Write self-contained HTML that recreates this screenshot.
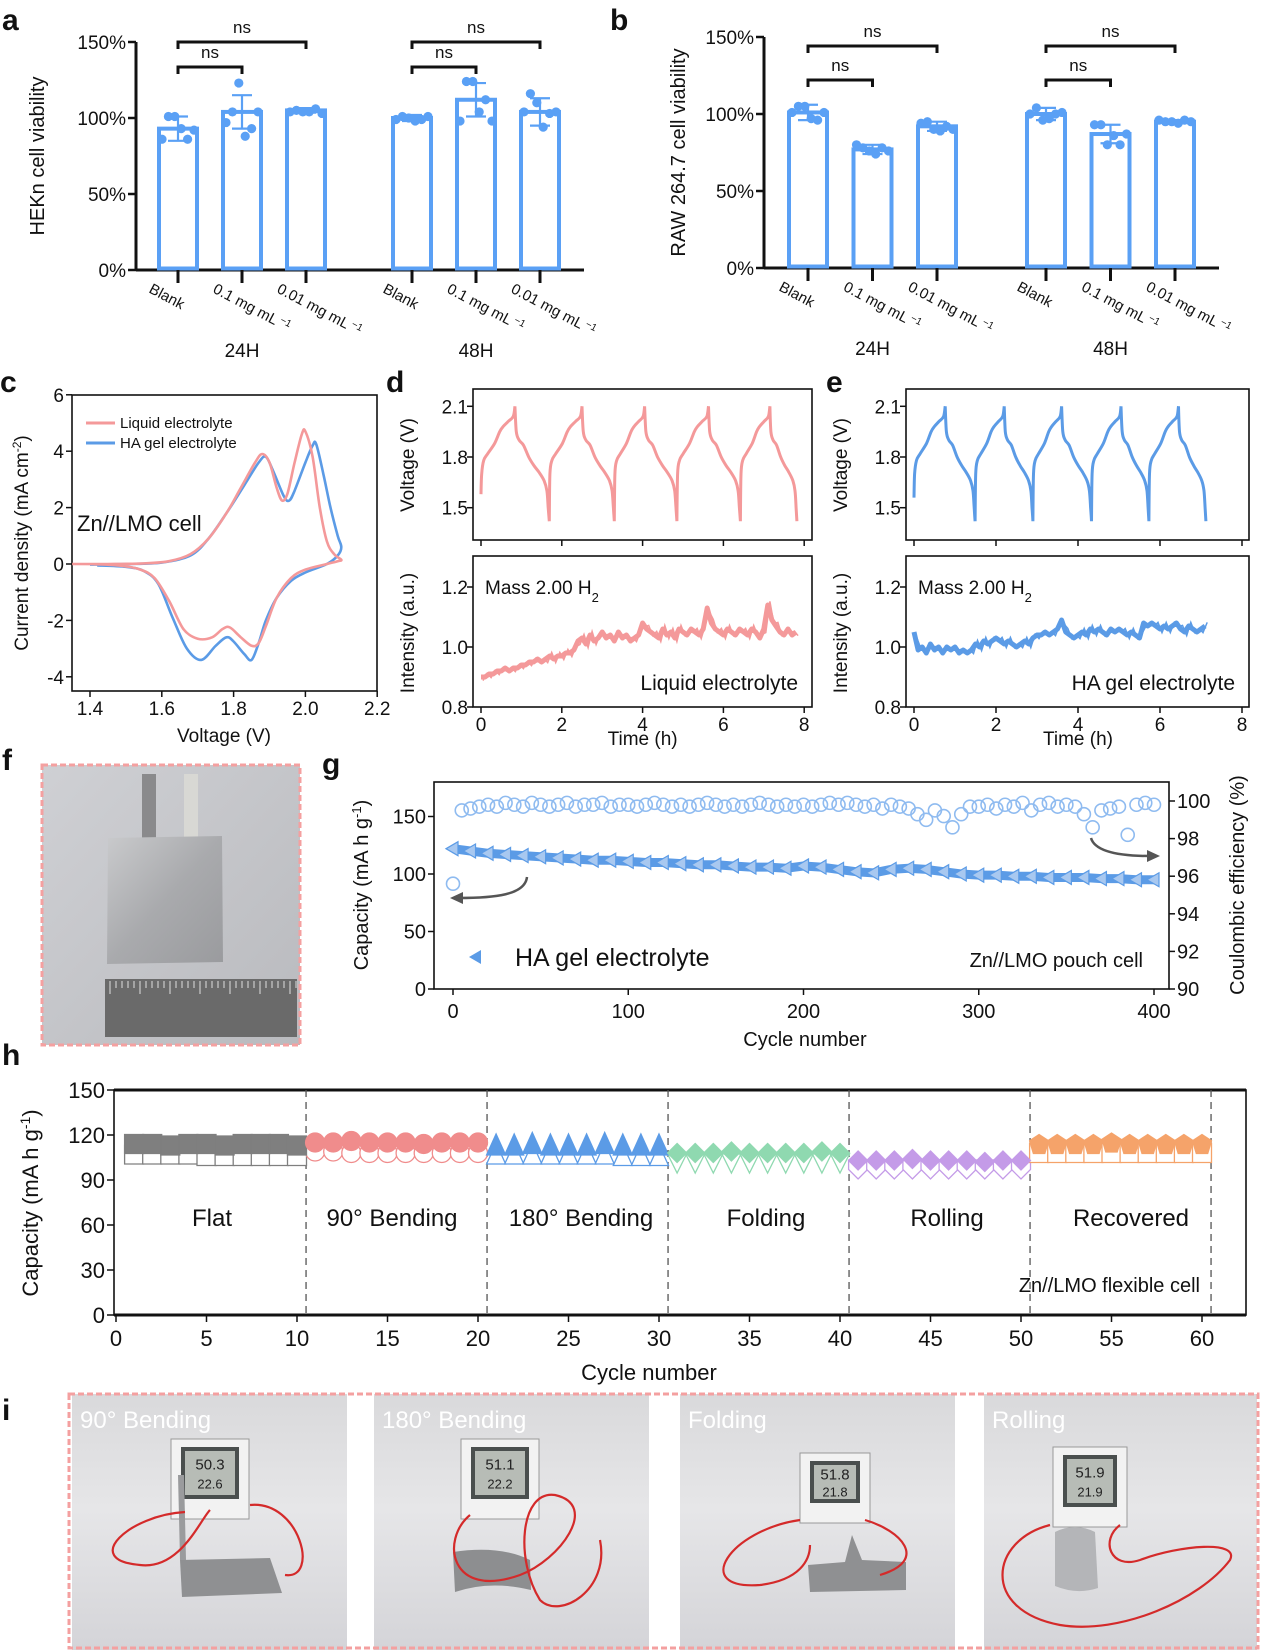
<!DOCTYPE html>
<html><head><meta charset="utf-8">
<style>
html,body{margin:0;padding:0;background:#fff;}
svg{display:block;font-family:"Liberation Sans",Arial,sans-serif;}
</style></head>
<body>
<svg id="fig" xmlns="http://www.w3.org/2000/svg" width="1269" height="1650" viewBox="0 0 1269 1650">
<defs>
<linearGradient id="phbg" x1="0" y1="0" x2="0" y2="1"><stop offset="0" stop-color="#d9d9db"/><stop offset="0.45" stop-color="#e6e6e8"/><stop offset="1" stop-color="#d4d4d8"/></linearGradient>
<linearGradient id="fbg" x1="0" y1="0" x2="1" y2="1"><stop offset="0" stop-color="#cfd0d4"/><stop offset="1" stop-color="#b9babe"/></linearGradient>
<linearGradient id="foil" x1="0" y1="0" x2="1" y2="1"><stop offset="0" stop-color="#c9cacc"/><stop offset="0.5" stop-color="#a9aaad"/><stop offset="1" stop-color="#9a9b9e"/></linearGradient>
</defs>
</svg>
<script>
const NS='http://www.w3.org/2000/svg';
const svg=document.getElementById('fig');

/* ---------- data ---------- */
// panel a
const aCategories=['Blank','0.1 mg mL','0.01 mg mL'];
const aGroups=['24H','48H'];
const aMeans=[[93,104,105],[100,112,104]];
const aSD=[[8,11,1.5],[2,11,9]];
const aPoints=[[[86,101,101,93,86,92],[97,104,123,88,93,104],[104,105,104,104,106,103]],
               [[99,101,100,98,99,101],[98,124,124,104,112,98],[104,116,110,94,103,104]]];
// panel b
const bMeans=[[101,77,92],[100,87,95]];
const bSD=[[5,3,3],[4,6,1]];
const bPoints=[[[101,105,105,97,96,101],[80,78,76,74,78,76],[94,95,90,89,92,90]],
               [[100,104,96,97,100,101],[93,93,80,86,80,87],[96,95,95,94,96,95]]];
const pctTicks=[0,50,100,150];
// panel c
const cvLiqV=[1.35,1.45,1.55,1.62,1.68,1.73,1.78,1.82,1.86,1.88,1.9,1.92,1.935,1.95,1.97,1.99,2.0,2.02,2.04,2.06,2.08,2.1,2.09,2.06,2.0,1.96,1.92,1.89,1.87,1.85,1.82,1.79,1.77,1.74,1.7,1.66,1.62,1.58,1.54,1.48,1.4];
const cvLiqI=[0,0,0.02,0.1,0.35,0.9,1.8,2.7,3.6,3.9,3.6,2.7,2.25,2.5,3.6,4.6,4.7,3.8,2.0,0.8,0.35,0.15,0.1,0.0,-0.2,-0.5,-1.2,-2.2,-2.8,-2.9,-2.6,-2.25,-2.3,-2.6,-2.65,-2.3,-1.3,-0.5,-0.2,-0.05,0];
const cvGelV=[1.4,1.5,1.6,1.68,1.73,1.78,1.83,1.87,1.89,1.91,1.94,1.955,1.97,2.0,2.02,2.03,2.05,2.07,2.09,2.1,2.09,2.06,2.0,1.96,1.92,1.89,1.87,1.85,1.83,1.8,1.78,1.75,1.71,1.67,1.63,1.59,1.55,1.5,1.42];
const cvGelI=[-0.02,0,0.05,0.3,0.9,1.8,2.8,3.6,3.8,3.3,2.4,2.25,2.6,3.6,4.2,4.25,3.2,2.0,1.0,0.6,0.3,0.0,-0.3,-0.6,-1.2,-2.0,-2.8,-3.4,-3.2,-2.75,-2.6,-2.9,-3.4,-3.0,-1.9,-0.7,-0.25,-0.1,-0.05];
const cXTicks=[1.4,1.6,1.8,2.0,2.2];
const cYTicks=[-4,-2,0,2,4,6];
// panels d/e voltage profiles
const chgFrac=[0,0.02,0.08,0.2,0.4,0.55,0.65,0.8,0.95,1];
const chgV=[1.57,1.7,1.78,1.82,1.88,1.95,1.98,2.01,2.04,2.1];
const dchFrac=[0,0.04,0.12,0.25,0.4,0.55,0.7,0.85,0.93,0.97,1];
const dchV=[2.1,1.95,1.9,1.87,1.8,1.75,1.71,1.66,1.6,1.5,1.42];
const liqStarts=[0,1.69,3.3,4.85,6.42];
const liqChgEnd=[0.84,2.5,4.05,5.63,7.15];
const liqDchEnd=[1.69,3.3,4.85,6.42,7.82];
const liqStartV=[1.58,1.42,1.42,1.42,1.42];
const gelStarts=[0,1.49,2.9,4.33,5.73];
const gelChgEnd=[0.76,2.2,3.6,5.05,6.45];
const gelDchEnd=[1.49,2.9,4.33,5.73,7.12];
const gelStartV=[1.56,1.42,1.42,1.42,1.42];
const timeTicks=[0,2,4,6,8];
const vTicks=[1.5,1.8,2.1];
const intTicks=[0.8,1.0,1.2];
// H2 intensity, 0.1 h step
const liqInt=[0.90,0.90,0.91,0.91,0.92,0.92,0.93,0.92,0.93,0.93,0.94,
0.94,0.95,0.95,0.96,0.95,0.96,0.97,0.96,0.97,0.97,
0.98,0.98,0.99,1.02,1.03,1.01,1.04,1.02,1.03,1.05,
1.03,1.04,1.02,1.05,1.03,1.04,1.02,1.03,1.04,1.08,
1.06,1.05,1.04,1.03,1.06,1.04,1.05,1.03,1.06,1.05,
1.04,1.06,1.05,1.04,1.06,1.13,
1.08,1.06,1.05,1.04,1.06,1.05,1.04,1.06,1.05,
1.04,1.06,1.05,1.03,1.06,1.14,
1.09,1.07,1.05,1.04,1.06,1.04,1.05];
const gelInt=[1.05,0.99,1.00,0.98,1.01,0.99,1.00,0.98,1.00,0.99,1.00,
0.98,0.99,0.98,0.99,1.01,1.00,1.02,1.01,1.02,1.03,
1.02,1.01,1.02,1.01,1.00,1.01,1.02,1.01,1.03,1.04,
1.04,1.05,1.04,1.05,1.06,1.09,1.05,1.04,1.03,1.04,
1.05,1.04,1.06,1.05,1.06,1.05,1.04,1.06,1.05,1.06,
1.05,1.04,1.05,1.04,1.03,1.08,1.07,1.08,1.07,1.06,
1.07,1.06,1.07,1.08,1.06,1.05,1.07,1.06,1.05,1.06,1.07];
// panel g (capacity every 10 cycles, CE every 5 cycles)
const gCapacity=[122,120,118,117,116,115,114,113,112,112,111,110,110,109,108,108,107,106,106,105,107,106,104,102,101,104,105,104,102,100,99,99,98,98,97,97,97,96,96,95,95];
const gCE=[95.6,99.5,99.6,99.7,99.8,99.7,99.9,99.8,99.7,99.9,99.8,99.7,99.8,99.9,99.7,99.8,99.8,99.9,99.7,99.8,
99.8,99.7,99.8,99.9,99.8,99.7,99.8,99.7,99.8,99.9,99.8,99.7,99.8,99.7,99.8,99.9,99.8,99.7,99.8,99.7,
99.8,99.7,99.8,99.9,99.8,99.9,99.8,99.7,99.8,99.6,99.8,99.7,99.6,99.3,99.0,99.5,99.2,98.6,99.3,99.7,
99.7,99.8,99.6,99.8,99.7,99.9,99.5,99.8,99.9,99.7,99.8,99.7,99.3,98.6,99.5,99.6,99.7,98.2,99.8,99.9,99.8];
const gXTicks=[0,100,200,300,400];
const gYTicks=[0,50,100,150];
const gRTicks=[90,92,94,96,98,100];
// panel h
const hSegments=['Flat','90° Bending','180° Bending','Folding','Rolling','Recovered'];
const hCharge=[114,114,113,114,114,113,114,114,114,113, 115,115,116,115,115,115,114,115,115,115,
113,113,114,113,113,113,114,113,113,113, 108,108,108,109,108,108,108,108,109,108,
103,103,103,104,103,103,103,102,103,103, 114,114,114,114,115,114,114,114,114,114];
const hDischarge=[107,107,107,107,106,106,106,106,106,106, 109,109,108,108,108,108,108,108,108,108,
107,107,107,107,107,107,107,106,106,106, 101,101,101,101,101,101,101,101,101,101,
97,97,97,97,97,97,97,97,97,97, 108,108,108,108,108,108,108,108,108,108];
const hXTicks=[0,5,10,15,20,25,30,35,40,45,50,55,60];
const hYTicks=[0,30,60,90,120,150];

/* ---------- helpers ---------- */
function mk(tag, attrs, name, parent){
  const el=document.createElementNS(NS,tag);
  for(const k in attrs) el.setAttribute(k,attrs[k]);
  
  
  (parent||svg).appendChild(el);
  return el;
}
function txt(x,y,s,size,name,opt){
  opt=opt||{};
  const a={x:x,y:y,'font-size':size,fill:opt.fill||'#111'};
  if(opt.anchor) a['text-anchor']=opt.anchor;
  if(opt.weight) a['font-weight']=opt.weight;
  if(opt.transform) a.transform=opt.transform;
  const t=mk('text',a,name,opt.parent);
  t.textContent=s;
  return t;
}
function sup(t,s,size){
  const ts=document.createElementNS(NS,'tspan');
  ts.setAttribute('baseline-shift','super');
  ts.setAttribute('font-size',size);
  ts.textContent=s;
  t.appendChild(ts);
  return ts;
}
function line(x1,y1,x2,y2,name,w,c,extra){
  const a={x1:x1,y1:y1,x2:x2,y2:y2,stroke:c||'#111','stroke-width':w||1.5};
  if(extra) for(const k in extra) a[k]=extra[k];
  return mk('line',a,name);
}
function smooth(p){
  let d='M'+p[0][0].toFixed(1)+','+p[0][1].toFixed(1);
  for(let i=0;i<p.length-1;i++){
    const p0=p[i-1]||p[i],p1=p[i],p2=p[i+1],p3=p[i+2]||p2;
    const c1=[p1[0]+(p2[0]-p0[0])/6,p1[1]+(p2[1]-p0[1])/6];
    const c2=[p2[0]-(p3[0]-p1[0])/6,p2[1]-(p3[1]-p1[1])/6];
    d+='C'+c1[0].toFixed(1)+','+c1[1].toFixed(1)+' '+c2[0].toFixed(1)+','+c2[1].toFixed(1)+' '+p2[0].toFixed(1)+','+p2[1].toFixed(1);
  }
  return d;
}
function poly(p){return 'M'+p.map(q=>q[0].toFixed(1)+','+q[1].toFixed(1)).join('L');}

/* ---------- panel letters ---------- */
[['a',2,30],['b',610,30],['c',0,392],['d',386,392],['e',826,392],['f',2,770],['g',322,774],['h',2,1065],['i',2,1420]].forEach(l=>{
  txt(l[1],l[2],l[0],30,'panel-label-'+l[0],{weight:'bold'});
});

/* ---------- bar panels a & b ---------- */
function barPanel(key,axX,axRight,y0,y150,cx0,step,gstep,means,sds,pts,ylab,ylabX){
  const y=v=>y0-v*(y0-y150)/150;
  const xc=(g,i)=>cx0+g*gstep+i*step;
  const blue='#5aa0f5';
  line(axX,y150,axX,y0+1,key+'-y-axis',3);
  line(axX,y0,axRight,y0,key+'-x-axis',3);
  pctTicks.forEach(v=>{
    line(axX-8,y(v),axX,y(v),key+'-y-tick',2.5);
    txt(axX-10,y(v)+7,v+'%',19,key+'-y-tick-label',{anchor:'end'});
  });
  const yl=txt(ylabX,(y0+y150)/2,ylab,20,key+'-y-axis-title',{anchor:'middle',transform:'rotate(-90 '+ylabX+' '+((y0+y150)/2)+')'});
  for(let g=0;g<2;g++){
    for(let i=0;i<3;i++){
      const x=xc(g,i),m=means[g][i],s=sds[g][i];
      mk('rect',{x:x-19,y:y(m),width:38,height:y0-y(m)-1.5,fill:'#fff',stroke:blue,'stroke-width':4},key+'-bar-'+aGroups[g]+'-'+i);
      line(x,y(m-s),x,y(m+s),key+'-error-bar',2.2,blue);
      line(x-10,y(m+s),x+10,y(m+s),key+'-error-cap',2.2,blue);
      line(x-10,y(m-s),x+10,y(m-s),key+'-error-cap',2.2,blue);
      pts[g][i].forEach((v,k)=>{
        mk('circle',{cx:x-16+k*6.4,cy:y(v),r:4.6,fill:blue},key+'-data-point');
      });
      line(x,y0,x,y0+13,key+'-x-tick',3);
      const tl=txt(x-30,y0+22,aCategories[i],15,key+'-x-tick-label',{transform:'rotate(28 '+(x-30)+' '+(y0+22)+')'});
      if(i>0) sup(tl,' −1',10);
    }
    txt(xc(g,1),y0+87,aGroups[g],19,key+'-group-label',{anchor:'middle'});
  }
  return {y,xc};
}
const pa=barPanel('a',136,584,270,42,178,64,234,aMeans,aSD,aPoints,'HEKn cell viability',44);
const pb=barPanel('b',764,1219,268,37,808,64.5,238,bMeans,bSD,bPoints,'RAW 264.7 cell viability',685);
function brackets(key,p,yTop,yLow){
  for(let g=0;g<2;g++){
    const x0=p.xc(g,0),x1=p.xc(g,1),x2=p.xc(g,2);
    mk('path',{d:`M${x0},${yTop+7}V${yTop}H${x2}V${yTop+7}`,fill:'none',stroke:'#111','stroke-width':3},key+'-significance-bracket');
    txt((x0+x2)/2,yTop-9,'ns',17,key+'-significance-label',{anchor:'middle'});
    mk('path',{d:`M${x0},${yLow+7}V${yLow}H${x1}V${yLow+7}`,fill:'none',stroke:'#111','stroke-width':3},key+'-significance-bracket');
    txt((x0+x1)/2,yLow-9,'ns',17,key+'-significance-label',{anchor:'middle'});
  }
}
brackets('a',pa,42,67);
brackets('b',pb,46,80);

/* ---------- panel c ---------- */
(function(){
  const L=72,R=377,T=395,B=691;
  const x=v=>90+(v-1.4)*359;
  const y=v=>564-v*28.2;
  mk('rect',{x:L,y:T,width:R-L,height:B-T,fill:'none',stroke:'#111','stroke-width':1.6},'c-plot-frame');
  cXTicks.forEach(v=>{line(x(v),B,x(v),B+6,'c-x-tick',1.5);txt(x(v),B+24,v.toFixed(1),19,'c-x-tick-label',{anchor:'middle'});});
  cYTicks.forEach(v=>{line(L-6,y(v),L,y(v),'c-y-tick',1.5);txt(L-8,y(v)+7,String(v),19,'c-y-tick-label',{anchor:'end'});});
  txt(224,742,'Voltage (V)',19,'c-x-axis-title',{anchor:'middle'});
  const yt=txt(28,543,'Current density (mA cm',19,'c-y-axis-title',{anchor:'middle',transform:'rotate(-90 28 543)'});
  sup(yt,'-2',12); yt.appendChild(document.createTextNode(')'));
  const liq=cvLiqV.map((v,i)=>[x(v),y(cvLiqI[i])]);
  const gel=cvGelV.map((v,i)=>[x(v),y(cvGelI[i])]);
  mk('path',{d:smooth(gel),fill:'none',stroke:'#5b9be6','stroke-width':2.6},'c-series-ha-gel');
  mk('path',{d:smooth(liq),fill:'none',stroke:'#f4999a','stroke-width':2.6},'c-series-liquid');
  line(86,423,115,423,'c-legend-swatch-liquid',3,'#f4999a');
  txt(120,428,'Liquid electrolyte',15,'c-legend-label-liquid');
  line(86,443,115,443,'c-legend-swatch-gel',3,'#5b9be6');
  txt(120,448,'HA gel electrolyte',15,'c-legend-label-gel');
  txt(77,531,'Zn//LMO cell',22,'c-annotation');
})();

/* ---------- panels d & e ---------- */
function dePanel(key,L,R,t0x,pxh,starts,chgEnd,dchEnd,startV,intens,color,label){
  const Tt=389,Tb=540,Bt=556,Bb=707;
  const x=t=>t0x+t*pxh;
  const yv=v=>457-(v-1.8)*169;
  const yi=v=>647-(v-1.0)*300;
  mk('rect',{x:L,y:Tt,width:R-L,height:Tb-Tt,fill:'none',stroke:'#111','stroke-width':1.6},key+'-voltage-frame');
  mk('rect',{x:L,y:Bt,width:R-L,height:Bb-Bt,fill:'none',stroke:'#111','stroke-width':1.6},key+'-intensity-frame');
  vTicks.forEach(v=>{line(L-6,yv(v),L,yv(v),key+'-voltage-tick',1.5);txt(L-5,yv(v)+7,v.toFixed(1),19,key+'-voltage-tick-label',{anchor:'end'});});
  intTicks.forEach(v=>{line(L-6,yi(v),L,yi(v),key+'-intensity-tick',1.5);txt(L-5,yi(v)+7,v.toFixed(1),19,key+'-intensity-tick-label',{anchor:'end'});});
  timeTicks.forEach(t=>{
    line(x(t),Tb,x(t),Tb+6,key+'-voltage-x-tick',1.5);
    line(x(t),Bb,x(t),Bb+6,key+'-time-tick',1.5);
    txt(x(t),Bb+24,String(t),19,key+'-time-tick-label',{anchor:'middle'});
  });
  txt(x(4),745,'Time (h)',19,key+'-x-axis-title',{anchor:'middle'});
  const lx=L-59;
  txt(lx,465,'Voltage (V)',19,key+'-voltage-axis-title',{anchor:'middle',transform:'rotate(-90 '+lx+' 465)'});
  txt(lx,633,'Intensity (a.u.)',19,key+'-intensity-axis-title',{anchor:'middle',transform:'rotate(-90 '+lx+' 633)'});
  let d='';
  starts.forEach((s,c)=>{
    const pts=chgFrac.map((f,i)=>[x(s+f*(chgEnd[c]-s)),yv(i===0?startV[c]:chgV[i])]);
    const pd=dchFrac.map((f,i)=>[x(chgEnd[c]+f*(dchEnd[c]-chgEnd[c])),yv(dchV[i])]);
    d+=smooth(pts)+smooth(pd);
  });
  mk('path',{d:d,fill:'none',stroke:color,'stroke-width':3},key+'-voltage-curve');
  const ip=intens.map((v,i)=>[x(i*0.1),yi(v)]);
  mk('path',{d:poly(ip),fill:'none',stroke:color,'stroke-width':5,'stroke-linejoin':'round'},key+'-h2-intensity-band');
  const ip2=intens.map((v,i)=>[x(i*0.1+0.05),yi(v+(i%2?0.012:-0.012))]);
  mk('path',{d:poly(ip2),fill:'none',stroke:color,'stroke-width':1.5},key+'-h2-intensity-noise');
  const m=txt(L+12,594,'Mass 2.00  H',19,key+'-ms-label');
  const sb=document.createElementNS(NS,'tspan');sb.setAttribute('baseline-shift','sub');sb.setAttribute('font-size','13');sb.textContent='2';m.appendChild(sb);
  txt(R-14,690,label,21,key+'-electrolyte-label',{anchor:'end'});
}
dePanel('d',473,812,481,40.4,liqStarts,liqChgEnd,liqDchEnd,liqStartV,liqInt,'#f4999a','Liquid electrolyte');
dePanel('e',906,1249,914,41,gelStarts,gelChgEnd,gelDchEnd,gelStartV,gelInt,'#5b9be6','HA gel electrolyte');

/* ---------- panel f photo ---------- */
(function(){
  mk('rect',{x:42,y:765,width:258,height:280,fill:'url(#fbg)'},'f-photo-background');
  mk('rect',{x:142,y:774,width:14,height:70,fill:'#8a8a8c'},'f-tab-left');
  mk('rect',{x:184,y:774,width:14,height:70,fill:'#d8d8d4'},'f-tab-right');
  mk('path',{d:'M108,838 L222,836 L223,962 L107,964 Z',fill:'url(#foil)'},'f-pouch-cell');
  mk('rect',{x:105,y:979,width:192,height:58,fill:'#6a6a6a'},'f-ruler');
  for(let i=0;i<32;i++){mk('line',{x1:110+i*6,y1:981,x2:110+i*6,y2:i%5?988:994,stroke:'#ddd','stroke-width':1},'f-ruler-mark');}
  mk('rect',{x:42,y:765,width:258,height:280,fill:'none',stroke:'#f4a0a0','stroke-width':3,'stroke-dasharray':'6 3'},'f-photo-border');
})();

/* ---------- panel g ---------- */
(function(){
  const L=434,R=1169,T=782,B=989;
  const x=c=>453+c*1.7525;
  const y=v=>B-v*1.15;
  const yr=v=>B-(v-90)*18.8;
  mk('rect',{x:L,y:T,width:R-L,height:B-T,fill:'none',stroke:'#111','stroke-width':1.6},'g-plot-frame');
  gXTicks.forEach(v=>{line(x(v),B,x(v),B+6,'g-x-tick',1.5);txt(x(v),B+29,String(v),20,'g-x-tick-label',{anchor:'middle'});});
  gYTicks.forEach(v=>{line(L-6,y(v),L,y(v),'g-y-tick',1.5);txt(L-8,y(v)+7,String(v),20,'g-y-tick-label',{anchor:'end'});});
  gRTicks.forEach(v=>{line(R,yr(v),R+6,yr(v),'g-right-tick',1.5);txt(R+8,yr(v)+7,String(v),20,'g-right-tick-label');});
  txt(805,1046,'Cycle number',20,'g-x-axis-title',{anchor:'middle'});
  const yt=txt(368,885,'Capacity (mA h g',20,'g-y-axis-title',{anchor:'middle',transform:'rotate(-90 368 885)'});
  sup(yt,'-1',13);yt.appendChild(document.createTextNode(')'));
  txt(1244,885,'Coulombic efficiency (%)',20,'g-right-axis-title',{anchor:'middle',transform:'rotate(-90 1244 885)'});
  const cp=gCapacity.map((v,i)=>[x(i*10),y(v)]);
  mk('path',{d:poly(cp),fill:'none',stroke:'#5b9be6','stroke-width':9,'stroke-linejoin':'round'},'g-capacity-band');
  gCapacity.forEach((v,i)=>{
    const cx=x(i*10),cy=y(v);
    mk('path',{d:`M${cx-7},${cy} L${cx+5},${cy-7} L${cx+5},${cy+7} Z`,fill:'#a8c8f0',stroke:'#5b9be6','stroke-width':1.2},'g-capacity-point');
  });
  gCE.forEach((v,i)=>{
    mk('circle',{cx:x(i*5),cy:yr(v),r:6.5,fill:'none',stroke:'#8fbbf0','stroke-width':1.6},'g-ce-point');
  });
  mk('path',{d:'M527,877 C525,895 495,898 458,898',fill:'none',stroke:'#555','stroke-width':2.5},'g-arrow-left');
  mk('path',{d:'M450,898 L463,892 L463,904 Z',fill:'#555'},'g-arrow-left-head');
  mk('path',{d:'M1091,838 C1095,852 1120,856 1150,856',fill:'none',stroke:'#555','stroke-width':2.5},'g-arrow-right');
  mk('path',{d:'M1160,856 L1147,850 L1147,862 Z',fill:'#555'},'g-arrow-right-head');
  mk('path',{d:'M469,957 L481,950 L481,964 Z',fill:'#5b9be6'},'g-legend-marker');
  txt(515,966,'HA gel electrolyte',25,'g-legend-label');
  txt(1143,967,'Zn//LMO pouch cell',20,'g-annotation',{anchor:'end'});
})();

/* ---------- panel h ---------- */
(function(){
  const L=114,R=1246,T=1090,B=1315;
  const x=c=>116+c*18.1;
  const y=v=>B-v*1.5;
  mk('rect',{x:L,y:T,width:R-L,height:B-T,fill:'none',stroke:'#111','stroke-width':1.6},'h-plot-frame');
  line(L,T,R,T,'h-top-border',3);
  line(L,B,R,B,'h-bottom-border',3);
  hXTicks.forEach(v=>{line(x(v),B,x(v),B+7,'h-x-tick',1.5);txt(x(v),B+31,String(v),22,'h-x-tick-label',{anchor:'middle'});});
  hYTicks.forEach(v=>{line(L-7,y(v),L,y(v),'h-y-tick',1.5);txt(L-9,y(v)+8,String(v),22,'h-y-tick-label',{anchor:'end'});});
  txt(649,1380,'Cycle number',22,'h-x-axis-title',{anchor:'middle'});
  const yt=txt(38,1203,'Capacity (mA h g',22,'h-y-axis-title',{anchor:'middle',transform:'rotate(-90 38 1203)'});
  sup(yt,'-1',14);yt.appendChild(document.createTextNode(')'));
  for(let s=1;s<=6;s++) line(x(s*10+0.5),T,x(s*10+0.5),B,'h-segment-divider',1.3,'#555',{'stroke-dasharray':'7 5'});
  const colors=['#7f7f7f','#f08c8c','#5b9be6','#8fd9b0','#c49be8','#f5a36a'];
  const lx=[212,392,581,766,947,1131];
  hSegments.forEach((s,k)=>txt(lx[k],1226,s,24,'h-segment-label',{anchor:'middle'}));
  txt(1200,1292,'Zn//LMO flexible cell',20,'h-annotation',{anchor:'end'});
  const h=9.5;
  function marker(seg,cx,cy,filled,name){
    const c=colors[seg],f=filled?c:'#fff';
    let d;
    if(seg===0||seg===5&&false) d=`M${cx-h},${cy-h}h${2*h}v${2*h}h${-2*h}Z`;
    else if(seg===1) return mk('circle',{cx:cx,cy:cy,r:h,fill:f,stroke:c,'stroke-width':1.3},name);
    else if(seg===2) d=`M${cx},${cy-h-2}L${cx+h},${cy+h}L${cx-h},${cy+h}Z`;
    else if(seg===3) d=filled?`M${cx},${cy-h}L${cx+h},${cy}L${cx},${cy+h}L${cx-h},${cy}Z`:`M${cx-h},${cy-h}L${cx+h},${cy-h}L${cx},${cy+h}Z`;
    else if(seg===4) d=filled?`M${cx},${cy-h}L${cx+h},${cy}L${cx},${cy+h}L${cx-h},${cy}Z`:`M${cx-h},${cy-h}L${cx+h},${cy-h}L${cx+h},${cy}L${cx},${cy+h}L${cx-h},${cy}Z`;
    else d=filled?`M${cx},${cy-h}L${cx+h},${cy-h/3}L${cx+h*0.6},${cy+h}L${cx-h*0.6},${cy+h}L${cx-h},${cy-h/3}Z`:`M${cx-h},${cy-h}h${2*h}v${2*h}h${-2*h}Z`;
    return mk('path',{d:d,fill:f,stroke:c,'stroke-width':1.3},name);
  }
  hDischarge.forEach((v,i)=>marker(Math.floor(i/10),x(i+1),y(v),false,'h-discharge-point'));
  hCharge.forEach((v,i)=>marker(Math.floor(i/10),x(i+1),y(v),true,'h-charge-point'));
})();

/* ---------- panel i photos ---------- */
(function(){
  const ph=[[72,347,'90° Bending',171,1439,78,'bend90'],[374,649,'180° Bending',461,1439,78,'bend180'],[680,955,'Folding',800,1453,70,'fold'],[984,1257,'Rolling',1053,1447,74,'roll']];
  const reads=[['50.3','22.6'],['51.1','22.2'],['51.8','21.8'],['51.9','21.9']];
  ph.forEach((p,k)=>{
    const [x0,x1,lab,dx,dy,dw,id]=p;
    mk('rect',{x:x0,y:1394,width:x1-x0,height:256,fill:'url(#phbg)'},'i-photo-'+id);
    const dh=dy===1453?70:80;
    mk('rect',{x:dx,y:dy,width:dw,height:dh,fill:'#f2f2f2',stroke:'#999','stroke-width':1},'i-hygrometer-'+id);
    mk('rect',{x:dx+10,y:dy+8,width:dw-20,height:dh-28,fill:'#4a4f4e'},'i-hygrometer-screen-'+id);
    mk('rect',{x:dx+14,y:dy+12,width:dw-28,height:dh-36,fill:'#b7bcb6'},'i-hygrometer-lcd-'+id);
    txt(dx+dw/2,dy+dh*0.38,reads[k][0],15,'i-humidity-reading',{anchor:'middle',fill:'#222'});
    txt(dx+dw/2,dy+dh*0.62,reads[k][1],13,'i-temperature-reading',{anchor:'middle',fill:'#222'});
    txt(x0+8,1428,lab,24,'i-photo-label',{fill:'#fff'});
  });
  mk('path',{d:'M180,1560 L270,1558 L282,1593 L182,1597 Z',fill:'#8f9092'},'i-cell-bend90');
  mk('path',{d:'M180,1560 L178,1475 L184,1475 L186,1560 Z',fill:'#9a9b9d'},'i-cell-bend90-upright');
  mk('path',{d:'M453,1552 Q500,1545 530,1560 L531,1590 Q490,1580 455,1592 Z',fill:'#8d8e90'},'i-cell-bend180');
  mk('path',{d:'M808,1565 L845,1562 L852,1535 L862,1560 L906,1562 L906,1590 L810,1592 Z',fill:'#8f9092'},'i-cell-fold');
  mk('path',{d:'M1055,1532 Q1075,1522 1095,1532 L1098,1588 Q1077,1595 1055,1586 Z',fill:'#b4b5b8'},'i-cell-roll');
  const wires=['M185,1512 C130,1515 80,1560 140,1565 C180,1570 200,1520 210,1510 M250,1505 C300,1500 320,1580 285,1575',
    'M470,1515 C440,1540 450,1600 520,1575 C560,1560 600,1505 555,1495 C520,1490 515,1560 540,1600 C560,1620 610,1590 600,1540',
    'M800,1520 C730,1530 690,1590 760,1585 C800,1580 810,1560 810,1545 M865,1520 C900,1530 930,1560 880,1575',
    'M1050,1525 C990,1540 980,1610 1060,1625 C1120,1635 1200,1600 1230,1560 C1240,1540 1180,1545 1140,1560 C1110,1570 1100,1540 1120,1525'];
  wires.forEach((d,k)=>mk('path',{d:d,fill:'none',stroke:'#d42a2a','stroke-width':2.2},'i-red-wire'));
  mk('rect',{x:69,y:1394,width:1189,height:254,fill:'none',stroke:'#f4a0a0','stroke-width':3,'stroke-dasharray':'6 3'},'i-photo-border');
})();
</script>
</body></html>
